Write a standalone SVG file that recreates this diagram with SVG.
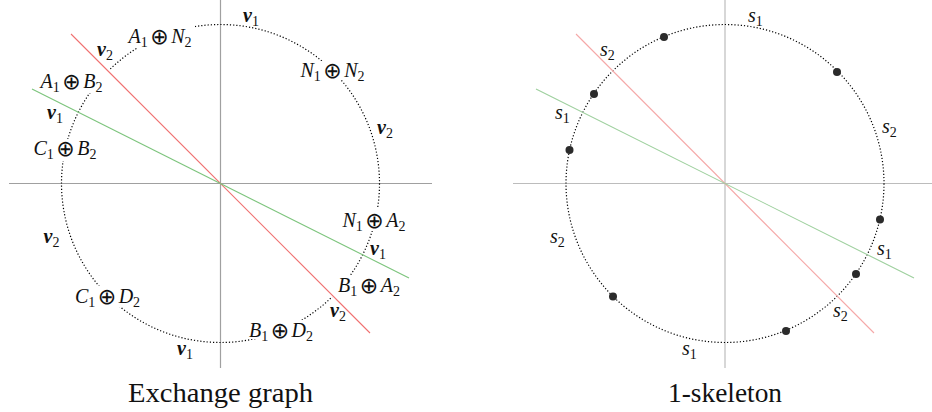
<svg xmlns="http://www.w3.org/2000/svg" width="932" height="412" viewBox="0 0 932 412">
<style>
text { fill: #111; }
.m { font-size: 20px; text-anchor: middle; }
.l { font-size: 20px; }
.i { font-style: italic; }
.s { font-size: 14px; font-style: normal; font-weight: normal; }
.o { font-family: "DejaVu Sans", sans-serif; font-size: 22px; font-style: normal; font-weight: normal; }
.nu { font-weight: bold; font-style: italic; }
.cap { font-size: 28px; text-anchor: middle; }
.axL { stroke: #a0a0a0; stroke-width: 1.2; }
.axR { stroke: #bcbcbc; stroke-width: 1.2; }
.ring { fill: none; stroke: #000; stroke-width: 1.2; stroke-dasharray: 1.2 2; }
.mask { fill: #fff; }
.redL { stroke: #f07070; stroke-width: 1.1; }
.grnL { stroke: #7cc47c; stroke-width: 1.1; }
.redR { stroke: #f5a8a8; stroke-width: 1.1; }
.grnR { stroke: #9ed09e; stroke-width: 1.1; }
.dot { fill: #2b2b2b; }
</style>
<g font-family="Liberation Serif, DejaVu Serif, serif">
<!-- ===== Left: Exchange graph ===== -->
<g id="left-axes">
  <line class="axL" x1="9" y1="183.5" x2="432" y2="183.5"/>
  <line class="axL" x1="220.5" y1="0" x2="220.5" y2="368"/>
</g>
<g id="left-connectors">
  <circle class="ring" cx="220.5" cy="183.5" r="159"/>
</g>
<g id="n-A1N2">
  <rect class="mask" x="125" y="26" width="70" height="22"/>
  <text class="m" x="160" y="43"><tspan class="i">A</tspan><tspan class="s" dy="4">1</tspan><tspan class="o" dy="-3" dx="2.5">⊕</tspan><tspan class="i" dy="-1" dx="2.5">N</tspan><tspan class="s" dy="4">2</tspan></text>
</g>
<g id="n-N1N2">
  <rect class="mask" x="297" y="61" width="71" height="19"/>
  <text class="m" x="332.5" y="76.5"><tspan class="i">N</tspan><tspan class="s" dy="4">1</tspan><tspan class="o" dy="-3" dx="2.5">⊕</tspan><tspan class="i" dy="-1" dx="2.5">N</tspan><tspan class="s" dy="4">2</tspan></text>
</g>
<g id="n-A1B2">
  <rect class="mask" x="36" y="70" width="74" height="23"/>
  <text class="m" x="71.5" y="88"><tspan class="i">A</tspan><tspan class="s" dy="4">1</tspan><tspan class="o" dy="-3" dx="2.5">⊕</tspan><tspan class="i" dy="-1" dx="2.5">B</tspan><tspan class="s" dy="4">2</tspan></text>
</g>
<g id="n-C1B2">
  <rect class="mask" x="30" y="139" width="70" height="22"/>
  <text class="m" x="65" y="155"><tspan class="i">C</tspan><tspan class="s" dy="4">1</tspan><tspan class="o" dy="-3" dx="2.5">⊕</tspan><tspan class="i" dy="-1" dx="2.5">B</tspan><tspan class="s" dy="4">2</tspan></text>
</g>
<g id="n-C1D2">
  <rect class="mask" x="71" y="286" width="73" height="21"/>
  <text class="m" x="107.5" y="303"><tspan class="i">C</tspan><tspan class="s" dy="4">1</tspan><tspan class="o" dy="-3" dx="2.5">⊕</tspan><tspan class="i" dy="-1" dx="2.5">D</tspan><tspan class="s" dy="4">2</tspan></text>
</g>
<g id="n-B1D2">
  <rect class="mask" x="245" y="320" width="72" height="19"/>
  <text class="m" x="281" y="336.5"><tspan class="i">B</tspan><tspan class="s" dy="4">1</tspan><tspan class="o" dy="-3" dx="2.5">⊕</tspan><tspan class="i" dy="-1" dx="2.5">D</tspan><tspan class="s" dy="4">2</tspan></text>
</g>
<g id="n-B1A2">
  <rect class="mask" x="330" y="275" width="74" height="22"/>
  <text class="m" x="369" y="291.5"><tspan class="i">B</tspan><tspan class="s" dy="4">1</tspan><tspan class="o" dy="-3" dx="2.5">⊕</tspan><tspan class="i" dy="-1" dx="2.5">A</tspan><tspan class="s" dy="4">2</tspan></text>
</g>
<g id="n-N1A2">
  <rect class="mask" x="338" y="207" width="72" height="24"/>
  <text class="m" x="374" y="226.5"><tspan class="i">N</tspan><tspan class="s" dy="4">1</tspan><tspan class="o" dy="-3" dx="2.5">⊕</tspan><tspan class="i" dy="-1" dx="2.5">A</tspan><tspan class="s" dy="4">2</tspan></text>
</g>
<g id="left-edge-labels">
  <text class="l" x="243" y="21.7"><tspan class="nu">ν</tspan><tspan class="s" dy="4">1</tspan></text>
  <text class="l" x="377" y="134"><tspan class="nu">ν</tspan><tspan class="s" dy="4">2</tspan></text>
  <text class="l" x="97" y="56"><tspan class="nu">ν</tspan><tspan class="s" dy="4">2</tspan></text>
  <text class="l" x="47" y="119"><tspan class="nu">ν</tspan><tspan class="s" dy="4">1</tspan></text>
  <text class="l" x="43.5" y="243"><tspan class="nu">ν</tspan><tspan class="s" dy="4">2</tspan></text>
  <text class="l" x="177" y="355"><tspan class="nu">ν</tspan><tspan class="s" dy="4">1</tspan></text>
  <text class="l" x="330" y="316.5"><tspan class="nu">ν</tspan><tspan class="s" dy="4">2</tspan></text>
  <text class="l" x="370" y="255"><tspan class="nu">ν</tspan><tspan class="s" dy="4">1</tspan></text>
</g>
<g id="left-lines">
  <line class="redL" x1="71" y1="34" x2="370" y2="333"/>
  <line class="grnL" x1="32" y1="89" x2="409" y2="278"/>
</g>
<text class="cap" x="220.5" y="401.5" textLength="185" lengthAdjust="spacingAndGlyphs">Exchange graph</text>

<!-- ===== Right: 1-skeleton ===== -->
<g id="right-axes">
  <line class="axR" x1="513" y1="183.5" x2="937" y2="183.5"/>
  <line class="axR" x1="725" y1="0" x2="725" y2="368"/>
</g>
<g id="right-connectors">
  <circle class="ring" cx="725" cy="183.5" r="159"/>
</g>
<g id="right-lines">
  <line class="redR" x1="576" y1="34" x2="874" y2="333"/>
  <line class="grnR" x1="536" y1="89" x2="914" y2="278"/>
</g>
<g id="v1"><circle class="dot" cx="664" cy="37" r="4"/></g>
<g id="v2"><circle class="dot" cx="594" cy="94" r="4"/></g>
<g id="v3"><circle class="dot" cx="569.5" cy="150" r="4"/></g>
<g id="v4"><circle class="dot" cx="837" cy="72" r="4"/></g>
<g id="v5"><circle class="dot" cx="613" cy="296.5" r="4"/></g>
<g id="v6"><circle class="dot" cx="880" cy="219.5" r="4"/></g>
<g id="v7"><circle class="dot" cx="856" cy="274" r="4"/></g>
<g id="v8"><circle class="dot" cx="786" cy="331" r="4"/></g>
<g id="right-edge-labels">
  <text class="l" x="748" y="21.7"><tspan class="i">s</tspan><tspan class="s" dy="4">1</tspan></text>
  <text class="l" x="882" y="133"><tspan class="i">s</tspan><tspan class="s" dy="4">2</tspan></text>
  <text class="l" x="600" y="56"><tspan class="i">s</tspan><tspan class="s" dy="4">2</tspan></text>
  <text class="l" x="555" y="119"><tspan class="i">s</tspan><tspan class="s" dy="4">1</tspan></text>
  <text class="l" x="550" y="243"><tspan class="i">s</tspan><tspan class="s" dy="4">2</tspan></text>
  <text class="l" x="682" y="354.5"><tspan class="i">s</tspan><tspan class="s" dy="4">1</tspan></text>
  <text class="l" x="877" y="255"><tspan class="i">s</tspan><tspan class="s" dy="4">1</tspan></text>
  <text class="l" x="833" y="316.5"><tspan class="i">s</tspan><tspan class="s" dy="4">2</tspan></text>
</g>
<text class="cap" x="725" y="401.5" textLength="114" lengthAdjust="spacingAndGlyphs">1-skeleton</text>
</g>
</svg>
